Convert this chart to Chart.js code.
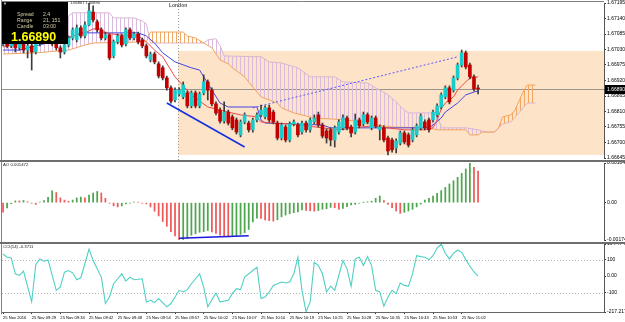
<!DOCTYPE html>
<html>
<head>
<meta charset="utf-8">
<script src="https://cdn.jsdelivr.net/npm/chart.js@4.4.1/dist/chart.umd.min.js"></script>
<style>
  body { margin: 0; background: #fff; }
  #wrap { position: relative; width: 625px; height: 322px; overflow: hidden; background: #fff; font-family: 'Liberation Sans', Arial, sans-serif; }
  canvas { position: absolute; left: 0; }
  .sep { position: absolute; left: 0; width: 625px; height: 2px; background: #6e6e6e; }
  .t { position: absolute; white-space: nowrap; line-height: 1; }
  #info { position: absolute; left: 2px; top: 2px; width: 66px; height: 42px; background: #000; }
  #info .t { color: #d6cca4; font-size: 5.2px; }
</style>
</head>
<body>
<div id="wrap">
  <canvas id="main" width="625" height="160" style="top:0"></canvas>
  <div class="sep" style="top:160px"></div>
  <canvas id="ao" width="625" height="80" style="top:162px"></canvas>
  <div class="sep" style="top:242px"></div>
  <canvas id="cci" width="625" height="78" style="top:244px"></canvas>

  <div class="t" style="left:70px;top:1px;font-size:4px;color:#222">1.66867 1.66890</div>
  <div id="info">
    <div class="t" style="left:1px;top:0px;color:#ddd;font-size:4px">&#9660;</div>
    <div class="t" style="left:15px;top:10px">Spread</div><div class="t" style="left:41px;top:10px">2.4</div>
    <div class="t" style="left:15px;top:16px">Range</div><div class="t" style="left:41px;top:16px">21, 151</div>
    <div class="t" style="left:15px;top:22px">Candle</div><div class="t" style="left:41px;top:22px">03:00</div>
    <div class="t" style="left:9px;top:29px;color:#ffff00;font-size:12.5px;font-weight:bold">1.66890</div>
  </div>
  <div class="t" style="left:3px;top:163px;font-size:4.3px;color:#222">AO 0.001472</div>
  <div class="t" style="left:3px;top:245px;font-size:4.3px;color:#222">CCI(14) -0.3711</div>
</div>
<script>
// candles (one per bar)
const open = [
  1.67050,1.67064,1.67043,1.67057,1.67036,1.67050,1.67028,1.67043,1.67021,1.67050,
  1.67064,1.67078,1.67064,1.67050,1.67036,1.67021,1.67046,1.67071,1.67064,1.67107,
  1.67078,1.67117,1.67163,1.67128,1.67100,1.67071,1.67082,1.67007,1.67057,1.67078,
  1.67050,1.67100,1.67071,1.67085,1.67064,1.67043,1.66993,1.67014,1.66979,1.66965,
  1.66929,1.66894,1.66851,1.66872,1.66862,1.66876,1.66830,1.66876,1.66830,1.66876,
  1.66915,1.66886,1.66837,1.66815,1.66776,1.66808,1.66791,1.66780,1.66727,1.66773,
  1.66769,1.66745,1.66780,1.66798,1.66791,1.66823,1.66808,1.66769,1.66716,1.66755,
  1.66709,1.66766,1.66762,1.66737,1.66769,1.66745,1.66773,1.66798,1.66762,1.66741,
  1.66745,1.66709,1.66737,1.66752,1.66787,1.66755,1.66737,1.66780,1.66766,1.66798,
  1.66752,1.66787,1.66745,1.66752,1.66716,1.66709,1.66681,1.66698,1.66734,1.66727,
  1.66709,1.66727,1.66752,1.66773,1.66780,1.66780,1.66798,1.66826,1.66862,1.66894,
  1.66886,1.66929,1.66975,1.67018,1.66975,1.66933,1.66893
];
const close = [
  1.67064,1.67043,1.67057,1.67036,1.67050,1.67028,1.67043,1.67021,1.67050,1.67064,
  1.67078,1.67064,1.67050,1.67036,1.67021,1.67046,1.67071,1.67100,1.67107,1.67078,
  1.67117,1.67167,1.67135,1.67100,1.67071,1.67082,1.67000,1.67057,1.67078,1.67046,
  1.67100,1.67071,1.67085,1.67057,1.67043,1.67007,1.67014,1.66986,1.66936,1.66929,
  1.66894,1.66847,1.66886,1.66886,1.66904,1.66830,1.66876,1.66830,1.66872,1.66915,
  1.66886,1.66837,1.66805,1.66776,1.66808,1.66769,1.66752,1.66737,1.66773,1.66798,
  1.66745,1.66780,1.66798,1.66815,1.66823,1.66780,1.66773,1.66716,1.66762,1.66709,
  1.66766,1.66773,1.66727,1.66769,1.66745,1.66780,1.66787,1.66762,1.66723,1.66716,
  1.66709,1.66752,1.66773,1.66787,1.66752,1.66734,1.66780,1.66759,1.66798,1.66773,
  1.66787,1.66759,1.66755,1.66709,1.66670,1.66674,1.66705,1.66734,1.66702,1.66691,
  1.66745,1.66759,1.66794,1.66752,1.66745,1.66808,1.66830,1.66869,1.66894,1.66844,
  1.66929,1.66975,1.67018,1.66968,1.66933,1.66890,1.66890
];
const high = [
  1.67075,1.67071,1.67064,1.67064,1.67057,1.67057,1.67050,1.67050,1.67057,1.67078,
  1.67089,1.67085,1.67071,1.67057,1.67043,1.67050,1.67078,1.67107,1.67117,1.67114,
  1.67128,1.67195,1.67185,1.67135,1.67107,1.67092,1.67085,1.67064,1.67085,1.67085,
  1.67107,1.67107,1.67092,1.67092,1.67071,1.67050,1.67021,1.67021,1.66986,1.66972,
  1.66936,1.66901,1.66894,1.66894,1.66915,1.66883,1.66883,1.66883,1.66879,1.66940,
  1.66922,1.66894,1.66844,1.66823,1.66844,1.66815,1.66798,1.66787,1.66780,1.66805,
  1.66776,1.66787,1.66805,1.66833,1.66830,1.66833,1.66815,1.66776,1.66769,1.66762,
  1.66773,1.66780,1.66769,1.66776,1.66776,1.66787,1.66798,1.66808,1.66769,1.66748,
  1.66752,1.66759,1.66780,1.66798,1.66794,1.66762,1.66801,1.66787,1.66808,1.66805,
  1.66794,1.66794,1.66762,1.66759,1.66723,1.66716,1.66713,1.66741,1.66741,1.66734,
  1.66752,1.66766,1.66801,1.66780,1.66787,1.66815,1.66837,1.66876,1.66901,1.66901,
  1.66936,1.66982,1.67028,1.67025,1.66982,1.66940,1.66904
];
const low = [
  1.67043,1.67036,1.67036,1.67021,1.67028,1.67018,1.67000,1.66957,1.67014,1.67043,
  1.67057,1.67057,1.67043,1.67028,1.67000,1.67014,1.67039,1.67064,1.67057,1.67071,
  1.67071,1.67114,1.67128,1.67092,1.67064,1.67064,1.66993,1.67000,1.67050,1.67039,
  1.67043,1.67064,1.67064,1.67050,1.67036,1.67000,1.66986,1.66979,1.66929,1.66922,
  1.66886,1.66840,1.66844,1.66865,1.66855,1.66823,1.66823,1.66823,1.66823,1.66869,
  1.66851,1.66830,1.66798,1.66769,1.66769,1.66762,1.66745,1.66730,1.66720,1.66766,
  1.66737,1.66737,1.66773,1.66791,1.66784,1.66773,1.66766,1.66709,1.66709,1.66702,
  1.66702,1.66759,1.66720,1.66730,1.66737,1.66737,1.66766,1.66755,1.66716,1.66698,
  1.66688,1.66684,1.66730,1.66745,1.66745,1.66720,1.66730,1.66752,1.66759,1.66766,
  1.66745,1.66752,1.66709,1.66702,1.66656,1.66666,1.66663,1.66691,1.66695,1.66684,
  1.66702,1.66720,1.66745,1.66745,1.66737,1.66773,1.66791,1.66819,1.66855,1.66837,
  1.66879,1.66922,1.66968,1.66961,1.66926,1.66883,1.66872
];

// ichimoku lines (bar, price)
const tenkanBars = [0,3,6,10,14,17,20,22,24,25,28,33,35,37,39,42,46,50,55,58,62,63,66,70,74,78,82,86,90,94,98,103,105,106,107,108,110,111,112,113,114,116];
const tenkanPrices = [1.67039,1.67046,1.67053,1.67064,1.67064,1.67078,1.67089,1.67103,1.67103,1.67089,1.67082,1.67078,1.67057,1.67028,1.67004,1.66933,1.66869,1.66826,1.66808,1.66798,1.66791,1.66773,1.66769,1.66766,1.66759,1.66752,1.66745,1.66752,1.66759,1.66752,1.66745,1.66745,1.66752,1.66780,1.66819,1.66840,1.66862,1.66886,1.66901,1.66915,1.66929,1.66933];
const kijunBars = [0,4,10,16,19,33,35,37,39,42,46,48,51,53,55,62,63,64,78,80,104,105,107,108,111,113,115,116];
const kijunPrices = [1.67028,1.67028,1.67050,1.67071,1.67089,1.67089,1.67078,1.67053,1.67018,1.66986,1.66965,1.66957,1.66886,1.66840,1.66826,1.66826,1.66780,1.66769,1.66762,1.66752,1.66752,1.66762,1.66787,1.66808,1.66840,1.66869,1.66879,1.66883];
const spanABars = [0,8,16,20,22,35,36,44,45,47,49,51,53,55,56,59,61,63,67,68,71,73,76,84,90,95,104,106,113,114,116,117,120,121,122,124,125,127,128,130];
const spanAPrices = [1.67014,1.67018,1.67028,1.67046,1.67053,1.67057,1.67092,1.67092,1.67078,1.67071,1.67053,1.67036,1.66993,1.66979,1.66965,1.66933,1.66897,1.66862,1.66840,1.66823,1.66805,1.66798,1.66787,1.66780,1.66766,1.66755,1.66752,1.66745,1.66745,1.66727,1.66727,1.66737,1.66737,1.66752,1.66791,1.66798,1.66815,1.66879,1.66904,1.66904];
const spanBBars = [0,16,17,26,27,32,34,35,36,49,50,52,53,54,63,65,68,72,75,81,83,89,91,94,96,98,99,106,107,113,116,118,120,122,124,127,128,130];
const spanBPrices = [1.67128,1.67149,1.67160,1.67160,1.67142,1.67142,1.67131,1.67121,1.67053,1.67053,1.67064,1.67068,1.67043,1.67007,1.67004,1.66986,1.66982,1.66965,1.66933,1.66933,1.66915,1.66911,1.66894,1.66869,1.66844,1.66815,1.66805,1.66805,1.66752,1.66752,1.66745,1.66737,1.66737,1.66766,1.66773,1.66823,1.66840,1.66840];

// drawn objects
const trendBars = [40, 59], trendPrices = [1.66840, 1.66684];
const channelBars = [61, 111], channelPrices = [1.66823, 1.67004];
const londonBar = 43;
const zoneHigh = 1.67025, zoneLow = 1.66656;
const lastPrice = 1.66890;
const priceTicks = [1.67195,1.67140,1.67085,1.67030,1.66975,1.66920,1.66865,1.66810,1.66755,1.66700,1.66645];

// awesome oscillator
const ao = [
  -0.00045,-0.00025,-0.00005,0.00008,0.00008,0.00010,0.00004,-0.00003,-0.00008,0.00003,
  0.00010,0.00025,0.00055,0.00047,0.00022,0.00012,0.00006,0.00012,0.00022,0.00026,
  0.00022,0.00035,0.00045,0.00052,0.00045,0.00020,-0.00003,-0.00015,-0.00020,-0.00015,
  -0.00006,-0.00002,0.00002,0.00002,-0.00003,-0.00006,-0.00020,-0.00040,-0.00062,-0.00088,
  -0.00110,-0.00135,-0.00155,-0.001741,-0.00172,-0.00165,-0.00152,-0.00145,-0.00138,-0.00135,
  -0.00130,-0.00136,-0.00144,-0.00152,-0.00158,-0.00160,-0.00158,-0.00155,-0.00148,-0.00140,
  -0.00125,-0.00090,-0.00072,-0.00074,-0.00080,-0.00084,-0.00086,-0.00080,-0.00066,-0.00058,
  -0.00052,-0.00047,-0.00043,-0.00034,-0.00036,-0.00038,-0.00040,-0.00037,-0.00031,-0.00028,
  -0.00022,-0.00024,-0.00031,-0.00027,-0.00019,-0.00011,-0.00008,-0.00003,0.00001,0.00004,
  0.00007,0.00020,0.00031,0.00010,-0.00008,-0.00024,-0.00039,-0.00050,-0.00045,-0.00039,
  -0.00031,-0.00020,-0.00007,0.00012,0.00020,0.00030,0.00043,0.00056,0.00071,0.00087,
  0.00102,0.00118,0.00136,0.00157,0.001847,0.00164,0.001472
];
const aoTicks = [0.001847, 0, -0.001741];
const aoTickLabels = ['0.001847', '0.00', '-0.001741'];
const aoLineBars = [43, 60], aoLineValues = [-0.00166, -0.00154];

// CCI(14)
const cciBars = [0,1,2,3,4,5,7,8,9,10,11,13,14,15,16,17,18,19,21,22,24,25,26,27,28,29,30,31,32,34,35,36,37,38,40,41,42,43,44,45,46,48,49,50,52,53,55,56,57,58,59,61,62,63,64,65,66,67,68,69,70,71,72,73,74,75,76,77,78,79,80,81,83,84,85,86,87,88,89,90,91,92,93,94,95,96,97,98,99,100,101,102,103,104,105,106,107,108,109,110,111,112,113,114,115,116];
const cciValues = [134,114,110,14,4,30,-156,70,104,90,98,-86,-66,24,34,20,-22,-10,164,94,-6,-166,-126,-46,-16,14,-30,-6,-22,-16,-156,-146,-160,-136,-186,-166,-126,-86,-96,-82,-46,14,-66,-186,-102,-156,-146,-106,-76,-82,-6,34,54,-136,-126,-96,-56,-46,-36,-42,-36,14,114,-86,-217.2173,-156,84,64,14,-96,-60,-86,94,44,-62,104,114,64,118,64,-86,-96,-182,-126,-86,-106,-42,-56,-62,14,124,118,114,100,124,170,194.4742,138,104,138,158,144,100,60,25,-0.3711];
const cciTicks = [194.4742, 100, 0, -100, -217.2173];
const cciTickLabels = ['194.4742', '100', '0.00', '-100', '-217.2173'];
const cciLevels = [100, -100];

const timeTickBars = [0,7,14,21,28,35,42,49,56,63,70,77,84,91,98,105,112];
const timeLabels = ['25 Nov 2016','25 Nov 09:29','25 Nov 09:34','25 Nov 09:42','25 Nov 09:48','25 Nov 09:54','25 Nov 09:57','25 Nov 10:02','25 Nov 10:07','25 Nov 10:10','25 Nov 10:19','25 Nov 10:25','25 Nov 10:28','25 Nov 10:35','25 Nov 10:43','25 Nov 10:53','25 Nov 11:02'];

const X_MIN = -0.25, X_MAX = 146.75;
const bars = close.map((_, i) => i);
const pts = (xs, ys) => xs.map((x, i) => ({ x: x, y: ys[i] }));

Chart.defaults.font.family = "'Liberation Sans', Arial, sans-serif";
Chart.defaults.color = '#000';

function hatch(color) {
  const c = document.createElement('canvas');
  c.width = 4; c.height = 2;
  const g = c.getContext('2d');
  g.fillStyle = color;
  g.fillRect(0, 0, 1, 2);
  return g.createPattern(c, 'repeat');
}

function yAxis(min, max, ticks, fmt) {
  return {
    position: 'right', min: min, max: max,
    afterBuildTicks: s => { s.ticks = ticks.map(v => ({ value: v })); },
    afterFit: s => { s.width = 21; s.paddingTop = 0; s.paddingBottom = 0; },
    ticks: { callback: fmt, font: { size: 5 }, color: '#000', padding: 1, autoSkip: false },
    grid: { drawOnChartArea: false, tickLength: 2, color: '#333' },
    border: { display: true, color: '#555' }
  };
}
const hiddenX = { type: 'linear', min: X_MIN, max: X_MAX, offset: false, display: false };

const base = {
  animation: false, responsive: false, events: [],
  plugins: { legend: { display: false }, tooltip: { enabled: false } },
  elements: { point: { radius: 0 }, line: { tension: 0, borderWidth: 1 } }
};

// frame on the left of a pane
const frame = {
  id: 'frame',
  afterDraw(chart) {
    const { ctx, chartArea: a } = chart;
    ctx.save();
    ctx.strokeStyle = '#808080';
    ctx.lineWidth = 1;
    ctx.beginPath();
    ctx.moveTo(a.left - 0.5, 0); ctx.lineTo(a.left - 0.5, a.bottom + 2);
    ctx.stroke();
    ctx.restore();
  }
};

const mainObjects = {
  id: 'mainObjects',
  beforeDatasetsDraw(chart) {
    const { ctx, chartArea: a, scales: { x, y } } = chart;
    ctx.save();
    const zx = x.getPixelForValue(londonBar) - 1;
    const zt = y.getPixelForValue(zoneHigh), zb = y.getPixelForValue(zoneLow);
    ctx.fillStyle = '#fde3c7';
    ctx.fillRect(zx, zt, a.right - zx, zb - zt);
    const py = Math.round(y.getPixelForValue(lastPrice)) + 0.5;
    ctx.strokeStyle = '#9a958c';
    ctx.beginPath(); ctx.moveTo(a.left, py); ctx.lineTo(a.right, py); ctx.stroke();
    const lx = Math.round(zx) + 0.5;
    ctx.setLineDash([1, 2]);
    ctx.strokeStyle = '#9a9a9a';
    ctx.beginPath(); ctx.moveTo(lx, 0); ctx.lineTo(lx, 160); ctx.stroke();
    ctx.restore();
  },
  afterDraw(chart) {
    const { ctx, chartArea: a, scales: { x, y } } = chart;
    ctx.save();
    ctx.strokeStyle = '#808080';
    ctx.beginPath(); ctx.moveTo(a.left - 0.5, 1.5); ctx.lineTo(a.right, 1.5); ctx.stroke();
    ctx.font = "bold 5px 'Liberation Sans', Arial";
    ctx.fillStyle = '#555';
    ctx.textAlign = 'center'; ctx.textBaseline = 'middle';
    ctx.fillText('London', x.getPixelForValue(londonBar) - 1, 6);
    const py = Math.round(y.getPixelForValue(lastPrice));
    ctx.fillStyle = '#000';
    ctx.fillRect(a.right + 1, py - 4, chart.width - a.right - 1, 9);
    ctx.fillStyle = '#fff';
    ctx.textAlign = 'left';
    ctx.font = "5px 'Liberation Sans', Arial";
    ctx.fillText(lastPrice.toFixed(5), a.right + 3, py + 0.5);
    ctx.restore();
  }
};

new Chart(document.getElementById('main'), {
  type: 'bar',
  data: {
    datasets: [
      { type: 'bar', data: bars.map(i => ({ x: i, y: [open[i], close[i]] })),
        backgroundColor: bars.map(i => close[i] >= open[i] ? '#19cccc' : '#c20000'),
        barThickness: 3, grouped: false, minBarLength: 1, order: 0 },
      { type: 'bar', data: bars.map(i => ({ x: i, y: [low[i], high[i]] })),
        backgroundColor: '#3c3c3c', barThickness: 1, grouped: false, order: 1 },
      { type: 'line', data: pts(tenkanBars, tenkanPrices), borderColor: '#f04848', order: 2 },
      { type: 'line', data: pts(kijunBars, kijunPrices), borderColor: '#4646e6', order: 2 },
      { type: 'line', data: pts(trendBars, trendPrices), borderColor: '#1530e0', borderWidth: 1.6, order: 2 },
      { type: 'line', data: pts(channelBars, channelPrices), borderColor: '#5a5aff', borderDash: [2, 2], order: 2 },
      { type: 'line', data: pts(spanABars, spanAPrices), borderColor: '#f4a460', order: 5,
        fill: { target: 7, above: hatch('#f2a862'), below: hatch('#d9bcdd') } },
      { type: 'line', data: pts(spanBBars, spanBPrices), borderColor: '#d6b6da', order: 6 }
    ]
  },
  options: Object.assign({}, base, {
    layout: { padding: { left: 2, top: 3, right: 0, bottom: 2 } },
    scales: {
      x: hiddenX,
      y: yAxis(1.66645, 1.67195, priceTicks, v => v.toFixed(5))
    }
  }),
  plugins: [mainObjects, frame]
});

new Chart(document.getElementById('ao'), {
  type: 'bar',
  data: {
    datasets: [
      { type: 'line', data: pts(aoLineBars, aoLineValues), borderColor: '#1a1ae0', borderWidth: 1.5, order: 0 },
      { type: 'bar', data: bars.map(i => ({ x: i, y: ao[i] })),
        backgroundColor: bars.map(i => (i > 0 && ao[i] > ao[i - 1]) ? '#4ea64e' : '#f05a5a'),
        barThickness: 1.1, grouped: false, order: 1 }
    ]
  },
  options: Object.assign({}, base, {
    layout: { padding: { left: 2, top: 1, right: 0, bottom: 2 } },
    scales: {
      x: hiddenX,
      y: yAxis(-0.001741, 0.001847, aoTicks, (v, i) => aoTickLabels[i])
    }
  }),
  plugins: [frame]
});

const cciLevelLines = {
  id: 'cciLevels',
  beforeDatasetsDraw(chart) {
    const { ctx, chartArea: a, scales: { y } } = chart;
    ctx.save();
    ctx.strokeStyle = '#b4b4b4';
    ctx.setLineDash([1, 2]);
    cciLevels.forEach(v => {
      const py = Math.round(y.getPixelForValue(v)) + 0.5;
      ctx.beginPath(); ctx.moveTo(a.left, py); ctx.lineTo(a.right, py); ctx.stroke();
    });
    ctx.restore();
  }
};

new Chart(document.getElementById('cci'), {
  type: 'line',
  data: {
    datasets: [
      { data: pts(cciBars, cciValues), borderColor: '#4fd0c4', borderWidth: 1.1 }
    ]
  },
  options: Object.assign({}, base, {
    layout: { padding: { left: 2, top: 0, right: 0, bottom: 0 } },
    scales: {
      x: {
        type: 'linear', min: X_MIN, max: X_MAX, offset: false, position: 'bottom',
        afterBuildTicks: s => { s.ticks = timeTickBars.map(v => ({ value: v })); },
        afterFit: s => { s.height = 10; s.paddingLeft = 0; s.paddingRight = 0; },
        ticks: { callback: (v, i) => timeLabels[i], align: 'start', font: { size: 4.1 }, color: '#000',
                 padding: 1, maxRotation: 0, autoSkip: false },
        grid: { drawOnChartArea: false, tickLength: 2, color: '#333' },
        border: { display: true, color: '#666' }
      },
      y: yAxis(-217.2173, 194.4742, cciTicks, (v, i) => cciTickLabels[i])
    }
  }),
  plugins: [cciLevelLines, frame]
});
</script>
</body>
</html>
